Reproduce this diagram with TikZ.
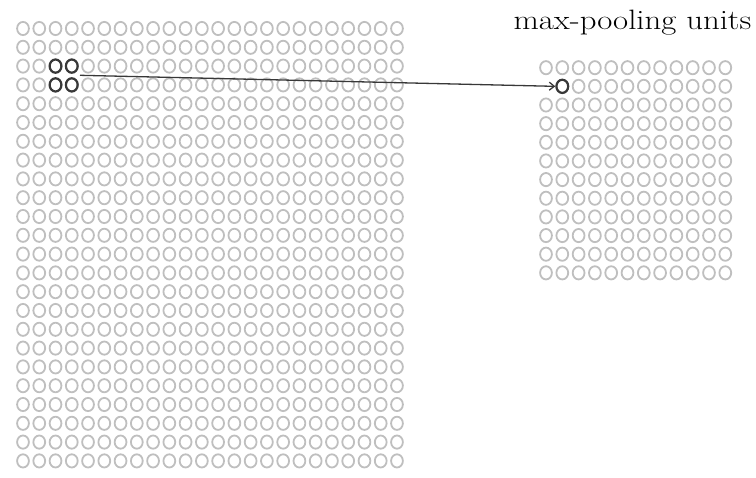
\documentclass[tikz,border=0pt]{standalone}
\usetikzlibrary{shapes.geometric,arrows.meta}
\begin{document}
\begin{tikzpicture}[x=1pt,y=-1pt,
  unit/.style={ellipse,draw=black!25,line width=1.8pt,minimum width=11.8pt,minimum height=13.2pt,inner sep=0pt},
  hot/.style={unit,draw=black!78,line width=2.2pt},
  link/.style={-{Straight Barb[length=5pt,width=8pt]},line width=1.3pt,draw=black!78}]
\useasboundingbox (0,0) rectangle (756,478);
% convolutional (hidden) layer 24x24
\foreach \i in {0,...,23}{
  \foreach \j in {0,...,23}{
    \node[unit] (l-\i-\j) at ({23+16.26*\i},{28.5+18.8*\j}) {};
  }
}
% highlighted 2x2 region
\foreach \i in {2,3}{
  \foreach \j in {2,3}{
    \node[hot] (h-\i-\j) at ({23+16.26*\i},{28.5+18.8*\j}) {};
  }
}
% max-pooling layer 12x12
\foreach \i in {0,...,11}{
  \foreach \j in {0,...,11}{
    \ifnum\i=0 \ifnum\j=1 \else
      \node[unit] (r-\i-\j) at ({546+16.3*\i},{67.7+18.65*\j}) {};
    \fi\else
      \node[unit] (r-\i-\j) at ({546+16.3*\i},{67.7+18.65*\j}) {};
    \fi
  }
}
\node[hot] (p) at ({546+16.3},{67.7+18.65}) {};
\node[anchor=base,inner sep=0pt] (title) at (632.5,29.5)
  {\scalebox{1.17}[1]{\fontsize{28}{28}\selectfont max-pooling units}};
\coordinate (src) at (80,75.3);
\draw[link] (src) -- (p.west);
\end{tikzpicture}
\end{document}
